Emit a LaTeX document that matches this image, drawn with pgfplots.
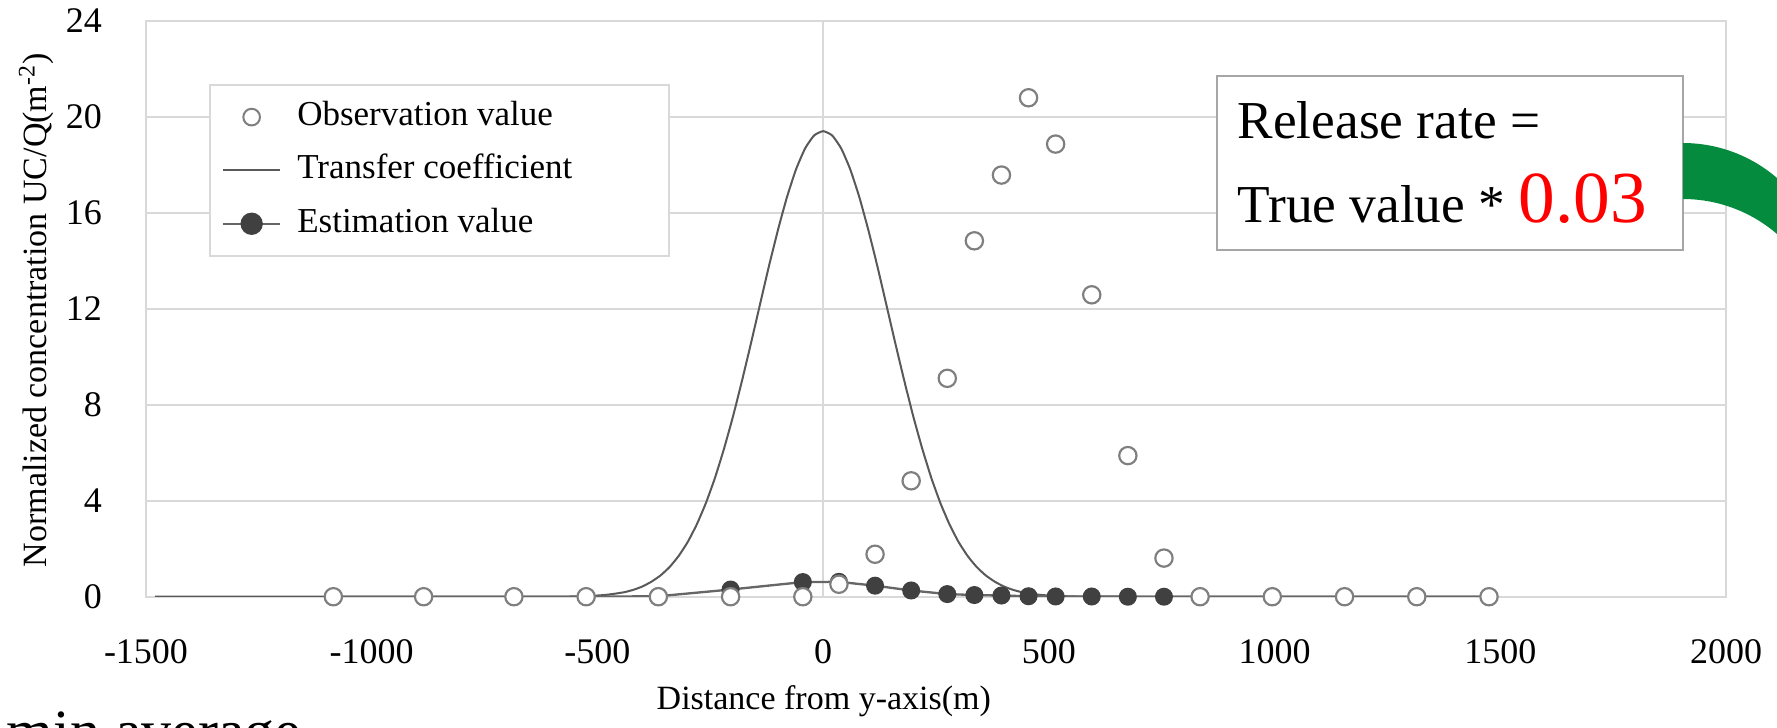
\documentclass[border=0pt]{standalone}
\usepackage{pgfplots}
\pgfplotsset{compat=1.18}
\usepackage{fontspec}
\setmainfont{Liberation Serif}
\definecolor{gridgray}{HTML}{D9D9D9}
\definecolor{linegray}{HTML}{595959}
\definecolor{estgray}{HTML}{666666}
\definecolor{markgray}{HTML}{404040}
\definecolor{circgray}{HTML}{7F7F7F}
\definecolor{boxgray}{HTML}{A6A6A6}
\definecolor{arcgreen}{RGB}{5,139,62}

\pgfplotstableread{
x y
-1480 0
-600 0
-560 0.01
-520 0.03
-500 0.05
-480 0.08
-460 0.13
-440 0.19
-420 0.29
-400 0.43
-380 0.63
-360 0.89
-340 1.24
-320 1.70
-300 2.28
-280 3.01
-260 3.89
-240 4.93
-220 6.14
-200 7.49
-180 8.98
-160 10.55
-140 12.17
-120 13.78
-100 15.29
-80 16.66
-60 17.81
-40 18.68
-20 19.22
0 19.40
20 19.22
40 18.68
60 17.81
80 16.66
100 15.29
120 13.78
140 12.17
160 10.55
180 8.98
200 7.49
220 6.14
240 4.93
260 3.89
280 3.01
300 2.28
320 1.70
340 1.24
360 0.89
380 0.63
400 0.43
420 0.29
440 0.19
460 0.13
480 0.08
500 0.05
520 0.03
560 0.01
600 0
1480 0
}\transfer

\pgfplotstableread{
x y
-1085 0
-885 0
-685 0
-525 0
-365 0
-205 0
-45 0
35 0.52
115 1.77
195 4.83
275 9.1
335 14.83
395 17.57
455 20.79
515 18.86
595 12.58
675 5.88
755 1.61
835 0
995 0
1155 0
1315 0
1475 0
}\observation

\pgfplotstableread{
x y
-1085 0
-885 0
-685 0
-525 0
-365 0.02
-205 0.30
-45 0.61
35 0.62
115 0.46
195 0.26
275 0.11
335 0.07
395 0.05
455 0.02
515 0.01
595 0.01
675 0
755 0
835 0
995 0
1155 0
1315 0
1475 0
}\estimation

\begin{document}
\begin{tikzpicture}
\begin{axis}[
  at={(43.8pt,-179.01pt)}, anchor=south west,
  scale only axis, width=474pt, height=172.8pt,
  xmin=-1500, xmax=2000, ymin=0, ymax=24,
  xtick={-1500,-1000,...,2000}, ytick={0,4,...,24},
  ymajorgrids, grid style={gridgray, line width=0.6pt},
  extra x ticks={0}, extra x tick labels={}, extra x tick style={grid=major},
  axis line style={gridgray, line width=0.6pt},
  tick style={draw=none},
  /pgf/number format/assume math mode=true,
  /pgf/number format/1000 sep={},
  ticklabel style={font=\fontsize{10.8}{13}\selectfont},
  xticklabel style={yshift=-9.4pt},
  yticklabel style={xshift=-9.7pt},
  xlabel={Distance from y-axis(m)},
  ylabel={Normalized concentration UC/Q(m\textsuperscript{-2})},
  every axis x label/.style={at={(axis description cs:0.429,-0.195)}, anchor=base, font=\fontsize{10.2}{12}\selectfont},
  every axis y label/.style={at={(axis description cs:-0.0628,0.4977)}, anchor=base, rotate=90, font=\fontsize{10.2}{12}\selectfont},
  legend style={at={(axis description cs:0.0399,0.890)}, anchor=north west, draw=gridgray, line width=0.6pt, fill=white,
    font=\fontsize{10.5}{12}\selectfont, inner xsep=3.6pt, inner ysep=4.6pt, row sep=6pt,
    nodes={inner sep=0pt, text height=7.5pt, text depth=2.5pt},
    /tikz/every odd column/.append style={column sep=4.8pt}},
  legend cell align=left,
]
\addlegendimage{only marks, mark=*, mark size=2.5pt, mark options={fill=white, draw=circgray, line width=0.6pt}}
\addlegendentry{\makebox[108pt][l]{Observation value}}
\addlegendimage{draw=linegray, line width=0.6pt, no marks}
\addlegendentry{Transfer coefficient}
\addlegendimage{draw=estgray, line width=0.7pt, mark=*, mark size=3pt, mark options={fill=markgray, draw=markgray, solid}}
\addlegendentry{Estimation value}

\addplot[forget plot, draw=linegray, line width=0.6pt, smooth, tension=0.3, no marks] table[x=x, y=y] {\transfer};
\addplot[forget plot, draw=estgray, line width=0.7pt, mark=*, mark size=2.35pt, mark options={fill=markgray, draw=markgray, solid}] table[x=x, y=y] {\estimation};
\addplot[forget plot, only marks, mark=*, mark size=2.6pt, mark options={fill=white, draw=circgray, line width=0.65pt}] table[x=x, y=y] {\observation};
\end{axis}
\begin{scope}[x=0.3pt, y=0.3pt]
\draw[boxgray, line width=0.6pt, fill=white] (1217,-76) rectangle (1683,-250);
\node[anchor=base west, inner sep=0pt, font=\fontsize{16}{19}\selectfont] at (1237,-138) {Release rate =};
\node[anchor=base west, inner sep=0pt, font=\fontsize{16}{19}\selectfont] at (1237,-222.7) {True value * {\color{red}\fontsize{22}{26}\selectfont 0.03}};
\fill[arcgreen] (1683,-143) arc[start angle=90, end angle=45, radius=143.7] -- ++(0,-56) arc[start angle=45, end angle=90, radius=143.7] -- cycle;
\node[anchor=base west, inner sep=0pt, font=\fontsize{18}{21}\selectfont] at (6,-751) {min average};
\end{scope}
\pgfresetboundingbox
\path[use as bounding box] (0pt,0pt) rectangle (533.1pt,-218.1pt);
\end{tikzpicture}
\end{document}
